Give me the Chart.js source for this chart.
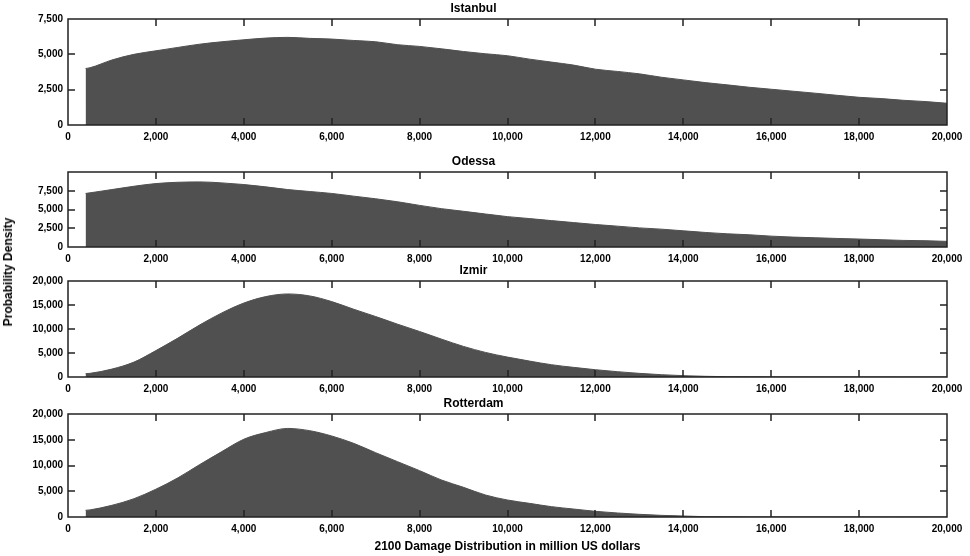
<!DOCTYPE html>
<html>
<head>
<meta charset="utf-8">
<script src="https://cdn.jsdelivr.net/npm/chart.js@4.4.1/dist/chart.umd.min.js"></script>
<style>
  html, body { margin: 0; padding: 0; background: #fff; }
  #wrap { position: relative; width: 970px; height: 556px; overflow: hidden; }
  #wrap canvas { position: absolute; left: 0; }
  #ytitle {
    position: absolute; left: 8px; top: 272px;
    transform: translate(-50%, -50%) rotate(-90deg);
    font: bold 12px "Liberation Sans", Arial, sans-serif; white-space: nowrap; color: #000;
  }
</style>
</head>
<body>
<div id="wrap">
  <canvas id="istanbulChart" width="970" height="143" style="top:2px"></canvas>
  <canvas id="odessaChart" width="970" height="112" style="top:155px"></canvas>
  <canvas id="izmirChart" width="970" height="133" style="top:264px"></canvas>
  <canvas id="rotterdamChart" width="970" height="159" style="top:397px"></canvas>
  <div id="ytitle">Probability Density</div>
</div>
<script>
/* ================================
   Data
================================ */
const damageBins = [
  400, 500, 1000, 1500, 2000, 2500, 3000, 3500, 4000, 4500,
  5000, 5500, 6000, 6500, 7000, 7500, 8000, 8500, 9000, 9500,
  10000, 10500, 11000, 11500, 12000, 12500, 13000, 13500, 14000, 14500,
  15000, 15500, 16000, 16500, 17000, 17500, 18000, 18500, 19000, 19500, 20000
];

const istanbulValues = [
  4000, 4050, 4600, 5000, 5250, 5490, 5720, 5890, 6030, 6150,
  6200, 6130, 6080, 5980, 5890, 5680, 5560, 5390, 5200, 5040,
  4900, 4660, 4450, 4240, 3950, 3790, 3620, 3380, 3190, 3000,
  2840, 2670, 2530, 2390, 2250, 2100, 1960, 1870, 1750, 1660, 1540
];

const odessaValues = [
  7140, 7220, 7660, 8100, 8460, 8630, 8680, 8550, 8330, 8020,
  7660, 7400, 7140, 6780, 6430, 6030, 5550, 5110, 4760, 4400,
  4050, 3790, 3520, 3260, 3000, 2780, 2550, 2380, 2160, 1940,
  1760, 1630, 1450, 1320, 1230, 1140, 1060, 970, 880, 840, 750
];

const izmirValues = [
  690, 760, 1650, 3100, 5500, 8100, 10860, 13350, 15400, 16750,
  17300, 16890, 15710, 14120, 12600, 11000, 9480, 7890, 6370, 5120,
  4150, 3320, 2560, 2010, 1520, 1110, 760, 480, 280, 140,
  70, 40, 25, 15, 10, 8, 5, 4, 3, 2, 2
];

const rotterdamValues = [
  1300, 1380, 2270, 3550, 5400, 7600, 10200, 12700, 15100, 16400,
  17200, 16760, 15730, 14300, 12490, 10740, 9000, 7180, 5760, 4270,
  3300, 2650, 2010, 1550, 1100, 780, 520, 320, 190, 65,
  30, 15, 10, 6, 4, 3, 2, 2, 1, 1, 1
];

const xTickStep = 2000;
const xMax = 20000;

const FONT = "'Liberation Sans', Arial, sans-serif";
const FILL = "#505050";

/* ================================
   Frame + inward ticks
================================ */
const frameTicks = {
  id: "frameTicks",
  afterDatasetsDraw(chart) {
    const { ctx, chartArea: a, scales } = chart;
    const len = 7;
    ctx.save();
    ctx.strokeStyle = "#222";
    ctx.lineWidth = 1.5;
    ctx.beginPath();
    scales.x.ticks.forEach(t => {
      if (t.value <= scales.x.min || t.value >= scales.x.max) return;
      const px = Math.round(scales.x.getPixelForValue(t.value));
      ctx.moveTo(px, a.top); ctx.lineTo(px, a.top + len);
      ctx.moveTo(px, a.bottom); ctx.lineTo(px, a.bottom - len);
    });
    scales.y.ticks.forEach(t => {
      if (t.value <= scales.y.min || t.value >= scales.y.max) return;
      const py = Math.round(scales.y.getPixelForValue(t.value));
      ctx.moveTo(a.left, py); ctx.lineTo(a.left + len, py);
      ctx.moveTo(a.right, py); ctx.lineTo(a.right - len, py);
    });
    ctx.stroke();
    ctx.strokeRect(Math.round(a.left), Math.round(a.top),
      Math.round(a.right - a.left), Math.round(a.bottom - a.top));
    ctx.restore();
  }
};

/* ================================
   Chart Renderer
================================ */
function renderPanel(canvasId, title, values, yMax, yStep, opts = {}) {
  const points = damageBins.map((x, i) => ({ x, y: values[i] }));
  const xHeight = opts.xTitle ? 39 : 20;

  return new Chart(document.getElementById(canvasId), {
    type: "line",
    data: {
      datasets: [{
        data: points,
        borderColor: FILL,
        backgroundColor: FILL,
        borderWidth: 1,
        pointRadius: 0,
        cubicInterpolationMode: "monotone",
        fill: "origin"
      }]
    },
    options: {
      responsive: false,
      animation: false,
      layout: { padding: { top: 1, right: 23, bottom: 0, left: 0 } },
      plugins: {
        legend: { display: false },
        tooltip: { enabled: false },
        title: {
          display: true,
          text: title,
          color: "#000",
          font: { family: FONT, size: 12, weight: "bold", lineHeight: 1 },
          padding: { top: 0, bottom: 4 }
        }
      },
      scales: {
        x: {
          type: "linear",
          min: 0,
          max: xMax,
          grid: { display: false, drawTicks: false },
          border: { display: false },
          ticks: {
            stepSize: xTickStep,
            padding: 6,
            maxRotation: 0,
            color: "#000",
            font: { family: FONT, size: 10, weight: "bold" },
            callback: v => v.toLocaleString("en-US")
          },
          title: {
            display: !!opts.xTitle,
            text: opts.xTitle || "",
            color: "#000",
            font: { family: FONT, size: 12, weight: "bold" },
            padding: { top: 0, bottom: 2 }
          },
          afterFit: s => { s.height = xHeight; }
        },
        y: {
          min: 0,
          max: yMax,
          grid: { display: false, drawTicks: false },
          border: { display: false },
          ticks: {
            stepSize: yStep,
            padding: 5,
            color: "#000",
            font: { family: FONT, size: 10, weight: "bold" },
            callback: v => (opts.hideTop && v >= yMax) ? "" : v.toLocaleString("en-US")
          },
          afterFit: s => { s.width = 68; }
        }
      }
    },
    plugins: [frameTicks]
  });
}

/* ================================
   Init
================================ */
renderPanel("istanbulChart", "Istanbul", istanbulValues, 7500, 2500);
renderPanel("odessaChart", "Odessa", odessaValues, 10000, 2500, { hideTop: true });
renderPanel("izmirChart", "Izmir", izmirValues, 20000, 5000);
renderPanel("rotterdamChart", "Rotterdam", rotterdamValues, 20000, 5000,
  { xTitle: "2100 Damage Distribution in million US dollars" });
</script>
</body>
</html>
